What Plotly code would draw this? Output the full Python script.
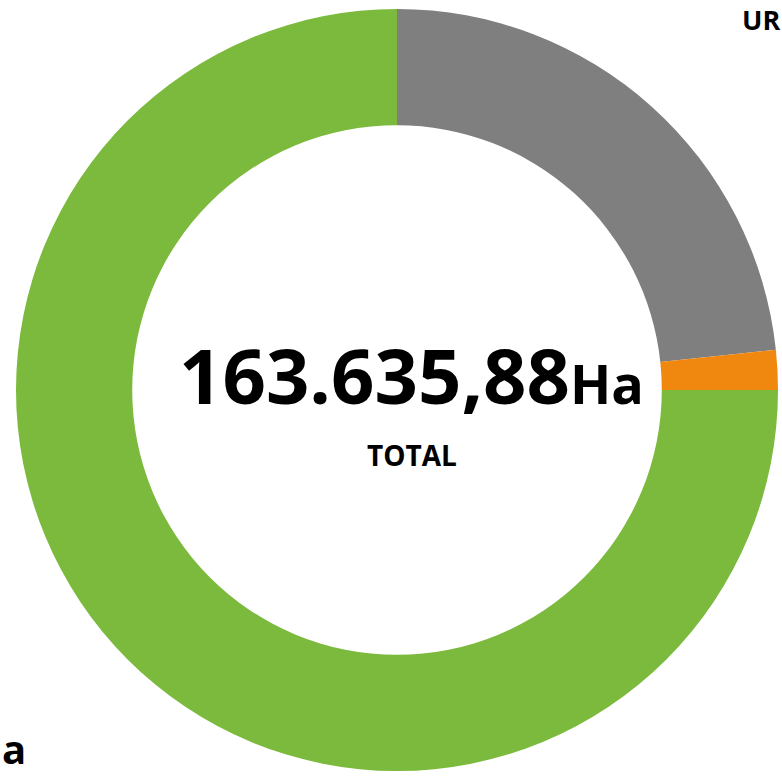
import plotly.graph_objects as go

# Datos de la dona (hectáreas por categoría)
categorias = ["Urbano", "Otros", "Área agrícola"]
hectareas = [38150.20, 2760.50, 122725.18]
colores = ["#7F7F7F", "#F0870F", "#7BBA3C"]

total_texto = "163.635,88"
unidad = "Ha"
etiqueta_total = "TOTAL"

W, H = 782, 779
FUENTE = "Open Sans, Noto Sans, sans-serif"


def px(x, y):
    """Convierte píxeles (origen arriba-izquierda) a coordenadas paper."""
    return x / W, 1 - y / H


fig = go.Figure()

fig.add_trace(go.Pie(
    labels=categorias,
    values=hectareas,
    hole=0.695,
    sort=False,
    direction="clockwise",
    rotation=0,
    marker=dict(colors=colores, line=dict(width=0)),
    textinfo="none",
    hoverinfo="label+value+percent",
    showlegend=False,
    domain=dict(x=[16 / W, 778 / W], y=[(H - 773) / H, (H - 7) / H]),
))

# Texto central
cx, cy = px(411, 374)
fig.add_annotation(
    x=cx, y=cy, xref="paper", yref="paper",
    text=f"<b>{total_texto}<span style='font-size:54px'>{unidad}</span></b>",
    showarrow=False, xanchor="center", yanchor="middle",
    font=dict(family=FUENTE, size=76, color="#000000"),
)
tx, ty = px(412, 455)
fig.add_annotation(
    x=tx, y=ty, xref="paper", yref="paper",
    text=f"<b>{etiqueta_total}</b>",
    showarrow=False, xanchor="center", yanchor="middle",
    font=dict(family=FUENTE, size=28, color="#000000"),
)

# Etiquetas en las esquinas
ux, uy = px(W, 20)
fig.add_annotation(
    x=ux, y=uy, xref="paper", yref="paper",
    text="<b>UR</b>", showarrow=False, xanchor="right", yanchor="middle",
    font=dict(family=FUENTE, size=27, color="#000000"),
)
ax, ay = px(0, H - 1)
fig.add_annotation(
    x=ax, y=ay, xref="paper", yref="paper",
    text="<b>a</b>", showarrow=False, xanchor="left", yanchor="bottom",
    font=dict(family=FUENTE, size=40, color="#000000"),
)

fig.update_layout(
    width=W, height=H,
    margin=dict(l=0, r=0, t=0, b=0),
    paper_bgcolor="#FFFFFF",
    plot_bgcolor="#FFFFFF",
)

# Quitar el margen por defecto del body para que la figura ocupe la ventana
fig.write_html(
    "out.html",
    config={"displayModeBar": False},
    post_script="document.body.style.margin='0';document.body.style.overflow='hidden';",
)
